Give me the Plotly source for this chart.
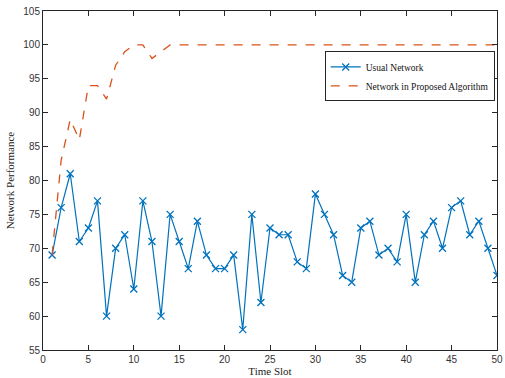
import plotly.graph_objects as go

time_slot = list(range(1, 51))
usual_network = [69, 76, 81, 71, 73, 77, 60, 70, 72, 64,
                 77, 71, 60, 75, 71, 67, 74, 69, 67, 67,
                 69, 58, 75, 62, 73, 72, 72, 68, 67, 78,
                 75, 72, 66, 65, 73, 74, 69, 70, 68, 75,
                 65, 72, 74, 70, 76, 77, 72, 74, 70, 66]
proposed_network = [69, 83, 89, 86, 94, 94, 92, 97, 99, 100,
                    100, 98, 99, 100, 100, 100, 100, 100, 100, 100,
                    100, 100, 100, 100, 100, 100, 100, 100, 100, 100,
                    100, 100, 100, 100, 100, 100, 100, 100, 100, 100,
                    100, 100, 100, 100, 100, 100, 100, 100, 100, 100]
x_ticks = [0, 5, 10, 15, 20, 25, 30, 35, 40, 45, 50]
y_ticks = [55, 60, 65, 70, 75, 80, 85, 90, 95, 100, 105]

fig = go.Figure()
fig.add_trace(go.Scatter(
    x=time_slot, y=usual_network, mode="lines+markers", name="Usual Network",
    line=dict(color="#0072BD", width=1.2),
    marker=dict(symbol="x-thin", size=7, line=dict(color="#0072BD", width=1.3)),
))
fig.add_trace(go.Scatter(
    x=time_slot, y=proposed_network, mode="lines", name="Network in Proposed Algorithm",
    line=dict(color="#D95319", width=1.3, dash="dash"),
))

axis_common = dict(
    showgrid=False, zeroline=False, showline=True, linecolor="#262626", linewidth=1,
    mirror="ticks", ticks="inside", ticklen=5, tickcolor="#262626", automargin=False,
    ticklabeloverflow="allow",
    tickfont=dict(family="Liberation Sans, Arial, sans-serif", size=10, color="#333333"),
)
fig.update_xaxes(range=[0, 50], tickvals=x_ticks, **axis_common,
                 title=dict(text="Time Slot", standoff=2,
                            font=dict(family="Liberation Serif, Times New Roman, serif", size=11, color="#222222")))
fig.update_yaxes(range=[55, 105], tickvals=y_ticks, **axis_common,
                 title=dict(text="Network Performance", standoff=6,
                            font=dict(family="Liberation Serif, Times New Roman, serif", size=11, color="#222222")))

fig.update_layout(
    width=505, height=378,
    margin=dict(l=43, r=8, t=11, b=28),
    paper_bgcolor="white", plot_bgcolor="white",
    showlegend=True,
    legend=dict(x=0.995, y=0.807, xanchor="right", yanchor="middle",
                bgcolor="white", bordercolor="#262626", borderwidth=1,
                font=dict(family="Liberation Serif, Times New Roman, serif", size=9.5, color="#111111"),
                tracegroupgap=0, itemwidth=30),
)
fig.write_html("out.html", config={"displayModeBar": False},
               post_script="document.body.style.margin='0';document.body.style.overflow='hidden';")
